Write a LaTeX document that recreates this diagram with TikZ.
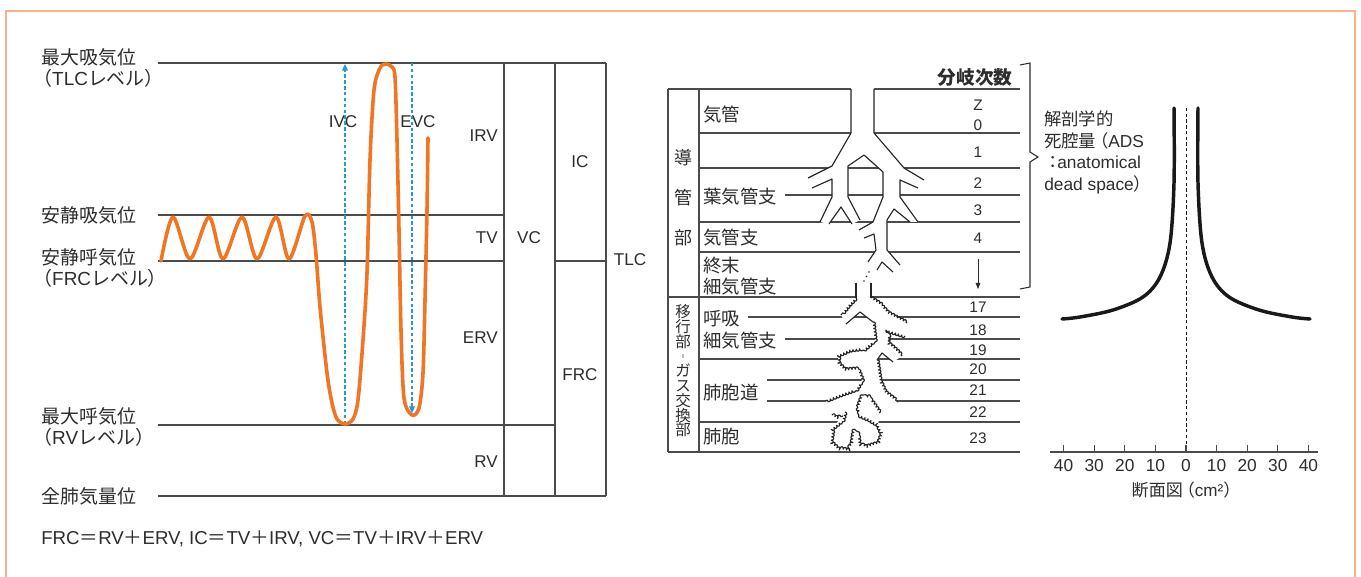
\documentclass[tikz,border=0pt]{standalone}
\usepackage{fontspec}
\setmainfont{Liberation Sans}
\newfontfamily\jp{Noto Sans CJK JP}
\usepackage{tikz}
\usetikzlibrary{arrows.meta, positioning, decorations.pathmorphing}

\definecolor{framecol}{RGB}{246,178,145}
\definecolor{breathcol}{RGB}{240,118,35}
\definecolor{vcblue}{RGB}{35,155,215}
\definecolor{inkgray}{RGB}{45,45,45}
\definecolor{rulegray}{RGB}{75,75,75}

\newcommand{\jeq}{{\jp ＝}}
\newcommand{\jplus}{{\jp ＋}}
\newcommand{\latn}[1]{{\rmfamily #1}}
\newcommand{\jpar}{\hspace{-0.42em}（}

\tikzset{
  lvl/.style={font=\jp\fontsize{14.2}{15.8}\selectfont, text=inkgray, inner sep=0pt, anchor=west, align=left},
  vol/.style={font=\fontsize{12.8}{15}\selectfont, text=inkgray, inner sep=0pt},
  rowtxt/.style={font=\jp\fontsize{13.8}{15.5}\selectfont, text=inkgray, inner sep=0pt, anchor=west, align=left},
  gennum/.style={font=\fontsize{11.5}{15}\selectfont, text=inkgray, inner sep=0pt, align=center},
  gridline/.style={rulegray, line width=0.8pt},
  wall/.style={black!85, line width=0.85pt, line join=round},
  alveoli/.style={wall, decorate, decoration={bumps, segment length=5pt, amplitude=1.7pt}},
  breath/.style={breathcol, line width=2.7pt, line cap=round, line join=round},
  vcline/.style={vcblue, line width=0.9pt, dash pattern=on 2.6pt off 1.8pt, -{Triangle[width=4.5pt,length=5pt]}},
  ads/.style={black!90, line width=2.6pt, line cap=round},
}

\begin{document}
\begin{tikzpicture}[x=0.75pt, y=-0.75pt]
  \fill[white] (0,0) rectangle (1361,577);
  \useasboundingbox (0,0) rectangle (1361,577);

  % Cadre
  \draw[framecol, line width=1.3pt] (6,577) -- (6,11) -- (1355,11) -- (1355,577);

  % Niveaux
  \draw[gridline] (158,63) -- (606,63);
  \draw[gridline] (158,215) -- (504,215);
  \draw[gridline] (158,261) -- (504,261) (555,261) -- (606,261);
  \draw[gridline] (158,425) -- (555,425);
  \draw[gridline] (158,496) -- (606,496);
  \foreach \x in {504,555,606}
    \draw[gridline] (\x,63) -- (\x,496);

  \node[lvl] (tlcTxt) at (41,67.5) {最大吸気位\\\jpar\latn{TLC}レベル）};
  \node[lvl] (eiTxt) at (41,215) {安静吸気位};
  \node[lvl] (frcTxt) at (41,267.5) {安静呼気位\\\jpar\latn{FRC}レベル）};
  \node[lvl] (rvTxt) at (41,426.5) {最大呼気位\\\jpar\latn{RV}レベル）};
  \node[lvl] (totTxt) at (41,496) {全肺気量位};

  % Volumes
  \node[vol, anchor=east] (irv) at (498,136) {IRV};
  \node[vol, anchor=east] (tv) at (498,238) {TV};
  \node[vol, anchor=east] (erv) at (498,338) {ERV};
  \node[vol, anchor=east] (rv) at (498,462) {RV};
  \node[vol] (vc) at (529,238) {VC};
  \node[vol] (ic) at (580,162) {IC};
  \node[vol] (frc) at (580,375) {FRC};
  \node[vol] (tlc) at (630,260) {TLC};
  \node[vol] (ivc) at (343,122) {IVC};
  \node[vol] (evc) at (418,122) {EVC};

  % Fleches IVC / EVC
  \coordinate (ivcA) at (345,424);
  \coordinate (ivcB) at (345,64);
  \coordinate (evcA) at (412,63);
  \coordinate (evcB) at (412,413);
  \draw[vcline] (ivcA) -- (ivcB);
  \draw[vcline] (evcA) -- (evcB);

  % Courbe spirometrique
  \draw[breath] plot[smooth, tension=0.5] coordinates {
    (161,261) (173,217) (190,259) (209,217) (223,259) (242,217) (257,259)
    (276,217) (289,259) (305,216) (312,222) (316,255) (320,307) (327,373)
    (332,403) (337,419) (345,424) (353,419) (358,400) (363,340) (367,273)
    (370,160) (374,90) (380,68) (386,64) (392,67) (395,77) (397,140)
    (399,230) (401,330) (404,398) (412,415) (419,408) (423,373) (425,300)
    (427,210) (428,138)};

  \node[font=\fontsize{14}{17}\selectfont, text=inkgray, inner sep=0pt, anchor=west] (formule) at (41,539)
    {FRC\jeq RV\jplus ERV, IC\jeq TV\jplus IRV, VC\jeq TV\jplus IRV\jplus ERV};

  % Tableau
  \draw[gridline] (668,89) -- (1020,89);
  \foreach \y in {133,168,222,252,359,422}
    \draw[gridline] (699,\y) -- (1020,\y);
  \draw[gridline] (785,195) -- (1020,195);
  \draw[gridline] (748,317) -- (1020,317);
  \draw[gridline] (785,339) -- (1020,339);
  \draw[gridline] (767,380) -- (1020,380);
  \draw[gridline] (767,401) -- (1020,401);
  \draw[gridline] (668,297) -- (1020,297);
  \draw[gridline] (668,452) -- (1020,452);
  \draw[gridline] (668,89) -- (668,452);
  \draw[gridline] (699,89) -- (699,452);

  \node[font=\jp\bfseries\fontsize{14}{16}\selectfont, text=inkgray, inner sep=0pt] (ordre) at (975,77) {分岐次数};
  \node[font=\jp\fontsize{13.5}{30}\selectfont, text=inkgray, inner sep=0pt, align=center] (cond) at (683,198) {導\\管\\部};
  \node[font=\jp\fontsize{11.6}{11.06}\selectfont, text=inkgray, inner sep=0pt, align=center] (trans) at (683,371) {移\\行\\部\\︲\\ガ\\ス\\交\\換\\部};

  \node[rowtxt] (trachee) at (703,115) {気管};
  \node[rowtxt] (lobaire) at (703,197) {葉気管支};
  \node[rowtxt] (bronche) at (703,238) {気管支};
  \node[rowtxt] (termin) at (703,276) {終末\\細気管支};
  \node[rowtxt, font=\jp\fontsize{13.8}{16.5}\selectfont] (respi) at (703,330) {呼吸\\細気管支};
  \node[rowtxt] (canal) at (703,393) {肺胞道};
  \node[rowtxt] (alveole) at (703,437) {肺胞};

  \node[gennum] (g0) at (978,115) {Z\\0};
  \foreach \n/\y in {1/152, 2/183, 3/210, 4/238, 17/307, 18/330, 19/350, 20/369, 21/390, 22/412, 23/438}
    \node[gennum] (g\n) at (978,\y) {\n};
  \coordinate (suiteA) at (978,259);
  \coordinate (suiteB) at (978,289);
  \draw[inkgray, line width=0.6pt, -{Triangle[width=3.5pt,length=4.5pt]}] (suiteA) -- (suiteB);

  % Arbre bronchique
  \fill[white] (851,88) -- (851,133) -- (832,166) -- (808,178) -- (812,188) -- (832,179)
    -- (832,197) -- (820,222) -- (829,224) -- (841,207) -- (852,224) -- (860,220)
    -- (848,197) -- (848,166) -- (864,155) -- (883,172) -- (883,197) -- (873,222)
    -- (859,230) -- (864,238) -- (874,234) -- (876,250) -- (868,262) -- (877,270)
    -- (882,262) -- (893,272) -- (900,265) -- (887,250) -- (887,220) -- (894,209)
    -- (910,222) -- (918,222) -- (900,197) -- (900,180) -- (918,188) -- (924,180)
    -- (904,168) -- (874,133) -- (874,88) -- cycle;
  \draw[wall] (851,89) -- (851,133) -- (832,166) -- (808,178);
  \draw[wall] (812,188) -- (832,179) -- (832,197) -- (820,222);
  \draw[wall] (829,224) -- (841,207) -- (852,224);
  \draw[wall] (860,220) -- (848,197) -- (848,166) -- (864,155) -- (883,172) -- (883,197) -- (873,222) -- (859,230);
  \draw[wall] (864,238) -- (874,234) -- (876,250) -- (868,262);
  \draw[wall] (877,270) -- (882,262) -- (893,272);
  \draw[wall] (900,265) -- (887,250) -- (887,220) -- (894,209) -- (910,222);
  \draw[wall] (918,222) -- (900,197) -- (900,180) -- (918,188);
  \draw[wall] (924,180) -- (904,168) -- (874,133) -- (874,89);
  \foreach \p in {(869,272), (866.5,276.5), (864,281)}
    \fill[black!85] \p circle (0.9);

  \fill[white] (856,282) -- (856,298) -- (841,315) -- (846,324) -- (860,312) -- (873,322)
    -- (875,340) -- (850,350) -- (838,356) -- (838,363) -- (845,370) -- (858,369)
    -- (862,380) -- (857,389) -- (825,401) -- (845,412) -- (833,428) -- (831,442)
    -- (847,450) -- (854,432) -- (859,443) -- (879,443) -- (882,434) -- (878,425)
    -- (880,413) -- (898,402) -- (885,392) -- (877,360) -- (882,353) -- (893,362)
    -- (902,356) -- (888,343) -- (889,331) -- (905,336) -- (907,323) -- (888,312)
    -- (871,298) -- (871,282) -- cycle;
  \draw[wall] (856,283) -- (856,298);
  \draw[wall] (871,283) -- (871,298);
  \draw[wall] (846,324) -- (860,312) -- (873,322);
  \draw[wall] (893,362) -- (882,353) -- (877,360);
  % parois alveolaires, autour de (850,380)
  \begin{scope}[transform canvas={shift={(850,380)}}]
    \draw[alveoli] (6,-82) -- (0,-76) -- (-9,-65);
    \draw[alveoli] (23,-58) -- (25,-40) -- (16,-32) -- (0,-30) -- (-11,-25)
      -- (-12,-17) -- (-5,-10) -- (8,-11) -- (12,0) -- (7,9) -- (-10,15) -- (-25,21);
    \draw[alveoli] (21,-82) -- (30,-76) -- (38,-67) -- (57,-57);
    \draw[alveoli] (55,-44) -- (39,-49) -- (38,-37) -- (45,-31) -- (52,-24);
    \draw[alveoli] (27,-20) -- (30,0) -- (35,12) -- (48,22);
    \draw[alveoli] (-5,32) -- (-7,40) -- (-17,48) -- (-19,62) -- (-13,68)
      -- (-3,70) -- (2,64) -- (4,52) -- (8,54) -- (9,63) -- (16,67) -- (29,63) -- (32,54)
      -- (28,45) -- (20,40) -- (11,36) -- (8,28) -- (12,17) -- (18,17) -- (23,23) -- (30,33);
    \draw[alveoli] (-18,35) -- (-13,38) -- (-7,36);
  \end{scope}

  % Accolade
  \draw[inkgray, line width=0.8pt, line join=miter] (1020,65) -- (1030,63) -- (1030,152)
    -- (1038,157) -- (1030,162) -- (1030,287) -- (1020,289);
  \node[font=\jp\fontsize{13}{16.3}\selectfont, text=inkgray, inner sep=0pt, anchor=west, align=left] (ads) at (1044,152.5)
    {解剖学的\\死腔量\hspace{-0.3em}（\latn{ADS}\\：\hspace{-0.25em}\latn{anatomical}\\\latn{dead space}）};

  % Espace mort
  \draw[black!90, line width=0.6pt, dash pattern=on 2.5pt off 1.8pt] (1186,108) -- (1186,452);
  \foreach \s in {-1,1}
    \draw[ads, shift={(1186,0)}, xscale=\s] plot[smooth, tension=0.55] coordinates
      {(12,108) (12,183) (16,243) (26,277) (43,297) (73,310) (106,317) (124,319)};
  \draw[gridline] (1050,452) -- (1318,452);
  \foreach \k in {-4,...,4} {
    \pgfmathtruncatemacro\lab{abs(10*\k)}
    \draw[gridline] ({1186+30.6*\k},452) -- ({1186+30.6*\k},445);
    \node[gennum, font=\fontsize{13}{15}\selectfont] (t\k) at ({1186+30.6*\k},466) {\lab};
  }
  \node[font=\fontsize{12.8}{15}\selectfont, text=inkgray, inner sep=0pt] (section) at (1186,490)
    {{\jp 断面図\hspace{-0.3em}（}cm²{\jp ）}};
\end{tikzpicture}
\end{document}
